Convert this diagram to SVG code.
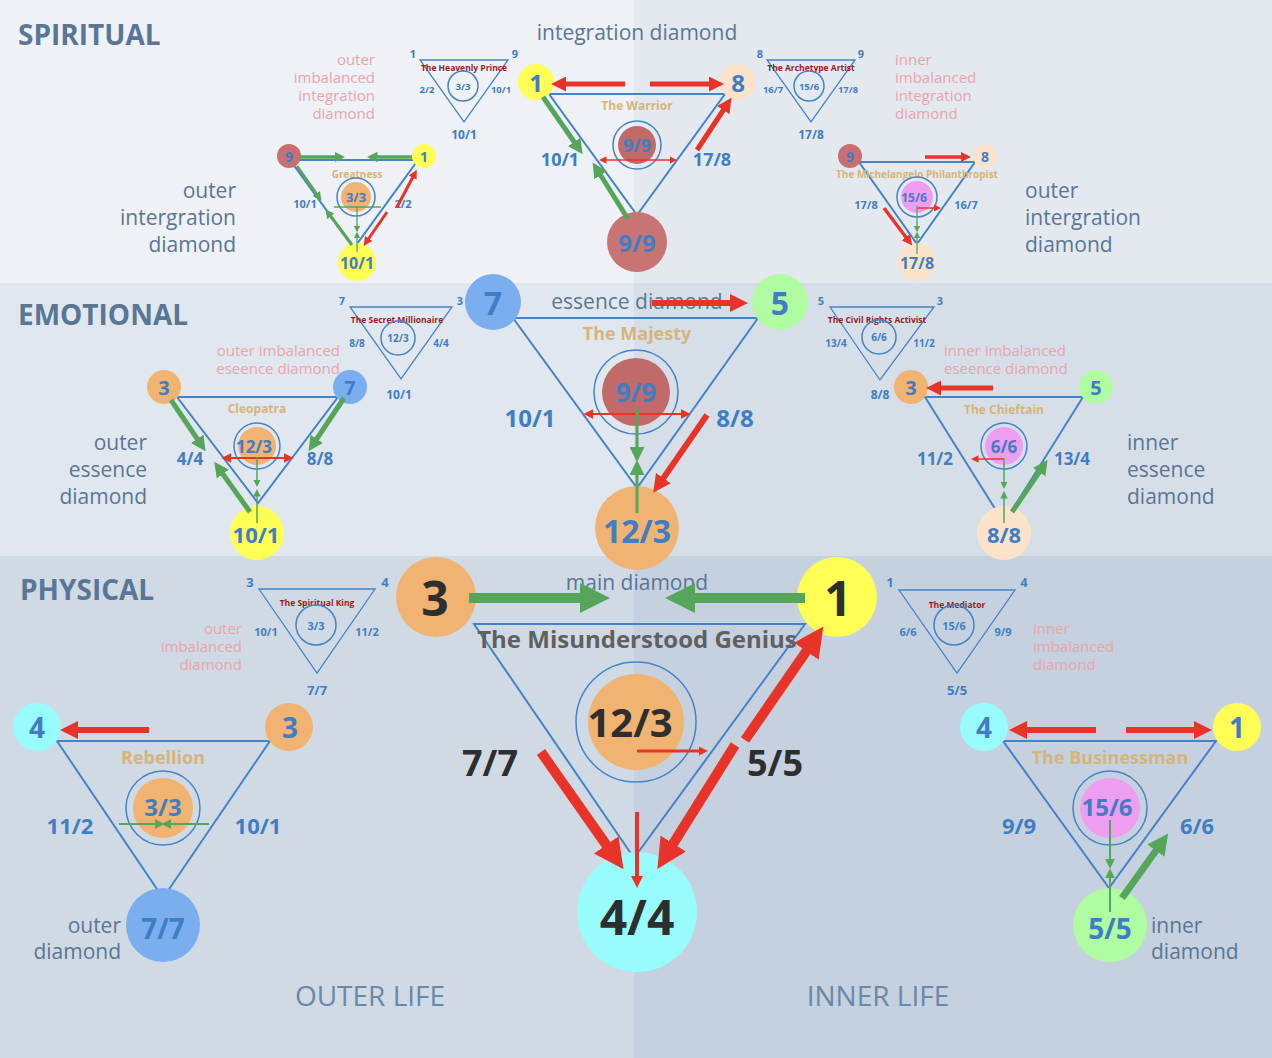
<svg xmlns="http://www.w3.org/2000/svg" width="1272" height="1058" viewBox="0 0 1272 1058">
<style>
text{font-family:"Open Sans","DejaVu Sans",sans-serif}
.b{font-weight:bold;fill:#3f7dc4;text-anchor:middle}
.c{dominant-baseline:central}
.dk{fill:#2e2e2e}
.hd{font-weight:bold;fill:#5a7696;font-size:28px}
.sub{fill:#5a7696;font-size:21px}
.pk{fill:#eaa4ad;font-size:15px}
.nm{font-weight:bold;fill:#d6b47a;text-anchor:middle}
.tt{font-weight:bold;fill:#981c1c;text-anchor:middle;font-size:8.5px}
.tri{fill:none;stroke:#4583c8;stroke-width:2;stroke-linejoin:miter}
.tri2{fill:none;stroke:#4583c8;stroke-width:1.3}
.ring{fill:none;stroke:#4583c8;stroke-width:1.5}
.r{stroke:#e83428;fill:none}
.g{stroke:#55a65a;fill:none}
</style>
<defs>
<marker id="rh" viewBox="0 0 3 3" refX="1" refY="1.5" markerWidth="3" markerHeight="3" orient="auto-start-reverse" markerUnits="strokeWidth"><path d="M0,0 L3,1.5 L0,3 z" fill="#e83428"/></marker>
<marker id="gh" viewBox="0 0 3 3" refX="1" refY="1.5" markerWidth="3" markerHeight="3" orient="auto-start-reverse" markerUnits="strokeWidth"><path d="M0,0 L3,1.5 L0,3 z" fill="#55a65a"/></marker>
<marker id="rs" viewBox="0 0 3 3" refX="1" refY="1.5" markerWidth="5" markerHeight="5" orient="auto-start-reverse" markerUnits="strokeWidth"><path d="M0,0 L3,1.5 L0,3 z" fill="#e83428"/></marker>
<marker id="gs" viewBox="0 0 3 3" refX="1" refY="1.5" markerWidth="5" markerHeight="5" orient="auto-start-reverse" markerUnits="strokeWidth"><path d="M0,0 L3,1.5 L0,3 z" fill="#55a65a"/></marker>
</defs>
<g id="background">
<rect x="0" y="0" width="634" height="283" fill="#eef1f5"/>
<rect x="634" y="0" width="638" height="283" fill="#e3e9ef"/>
<rect x="0" y="283" width="634" height="273" fill="#e1e7ee"/>
<rect x="634" y="283" width="638" height="273" fill="#d6dfe8"/>
<rect x="0" y="556" width="634" height="502" fill="#d0dae4"/>
<rect x="634" y="556" width="638" height="502" fill="#c5d1de"/>
</g>
<g id="labels">
<text class="hd" x="18" y="45">SPIRITUAL</text>
<text class="hd" x="18" y="325">EMOTIONAL</text>
<text class="hd" x="20" y="600">PHYSICAL</text>
<text class="sub" x="637" y="40" text-anchor="middle" font-size="22">integration diamond</text>
<text class="sub" x="637" y="309" text-anchor="middle" font-size="22">essence diamond</text>
<text class="sub" x="637" y="590" text-anchor="middle" font-size="22">main diamond</text>
<text class="sub" text-anchor="end"><tspan x="236" y="198">outer</tspan><tspan x="236" y="225">intergration</tspan><tspan x="236" y="252">diamond</tspan></text>
<text class="sub"><tspan x="1025" y="198">outer</tspan><tspan x="1025" y="225">intergration</tspan><tspan x="1025" y="252">diamond</tspan></text>
<text class="sub" text-anchor="end"><tspan x="147" y="450">outer</tspan><tspan x="147" y="477">essence</tspan><tspan x="147" y="504">diamond</tspan></text>
<text class="sub"><tspan x="1127" y="450">inner</tspan><tspan x="1127" y="477">essence</tspan><tspan x="1127" y="504">diamond</tspan></text>
<text class="sub" text-anchor="end"><tspan x="121" y="933">outer</tspan><tspan x="121" y="959">diamond</tspan></text>
<text class="sub"><tspan x="1151" y="933">inner</tspan><tspan x="1151" y="959">diamond</tspan></text>
<text class="pk" text-anchor="end"><tspan x="375" y="65">outer</tspan><tspan x="375" y="83">imbalanced</tspan><tspan x="375" y="101">integration</tspan><tspan x="375" y="119">diamond</tspan></text>
<text class="pk"><tspan x="895" y="65">inner</tspan><tspan x="895" y="83">imbalanced</tspan><tspan x="895" y="101">integration</tspan><tspan x="895" y="119">diamond</tspan></text>
<text class="pk" text-anchor="end"><tspan x="340" y="356">outer imbalanced</tspan><tspan x="340" y="374">eseence diamond</tspan></text>
<text class="pk"><tspan x="944" y="356">inner imbalanced</tspan><tspan x="944" y="374">eseence diamond</tspan></text>
<text class="pk" text-anchor="end"><tspan x="242" y="634">outer</tspan><tspan x="242" y="652">imbalanced</tspan><tspan x="242" y="670">diamond</tspan></text>
<text class="pk"><tspan x="1033" y="634">inner</tspan><tspan x="1033" y="652">imbalanced</tspan><tspan x="1033" y="670">diamond</tspan></text>
<text x="370" y="1006" font-size="28" fill="#6a88a8" text-anchor="middle">OUTER LIFE</text>
<text x="878" y="1006" font-size="28" fill="#6a88a8" text-anchor="middle">INNER LIFE</text>
</g>

<g id="heavenly-prince">
<polygon class="tri2" points="420,60 508,60 464,122"/>
<text class="b" x="413" y="58" font-size="11">1</text><text class="b" x="515" y="58" font-size="11">9</text>
<text class="tt" x="464" y="71">The Heavenly Prince</text>
<circle class="ring" cx="463" cy="86" r="15"/><text class="b c" x="463" y="86" font-size="9.5">3/3</text>
<text class="b" x="427" y="93" font-size="9.5">2/2</text><text class="b" x="501" y="93" font-size="9.5">10/1</text>
<text class="b" x="464" y="139" font-size="12">10/1</text>
</g>
<g id="archetype-artist">
<polygon class="tri2" points="767,60 855,60 811,122"/>
<text class="b" x="760" y="58" font-size="11">8</text><text class="b" x="861" y="58" font-size="11">9</text>
<text class="tt" x="811" y="71">The Archetype Artist</text>
<circle class="ring" cx="809" cy="86" r="15"/><text class="b c" x="809" y="86" font-size="9.5">15/6</text>
<text class="b" x="773" y="93" font-size="9.5">16/7</text><text class="b" x="848" y="93" font-size="9.5">17/8</text>
<text class="b" x="811" y="139" font-size="12">17/8</text>
</g>
<g id="secret-millionaire">
<polygon class="tri2" points="350,307 452,307 401,379"/>
<text class="b" x="342" y="305" font-size="11">7</text><text class="b" x="460" y="305" font-size="11">3</text>
<text class="tt" x="397" y="323">The Secret Millionaire</text>
<circle class="ring" cx="398" cy="338" r="17"/><text class="b c" x="398" y="338" font-size="10">12/3</text>
<text class="b" x="357" y="347" font-size="10">8/8</text><text class="b" x="441" y="347" font-size="10">4/4</text>
<text class="b" x="399" y="399" font-size="12">10/1</text>
</g>
<g id="civil-rights-activist">
<polygon class="tri2" points="830,307 934,307 880,380"/>
<text class="b" x="821" y="305" font-size="11">5</text><text class="b" x="940" y="305" font-size="11">3</text>
<text class="tt" x="877" y="323">The Civil Rights Activist</text>
<circle class="ring" cx="879" cy="337" r="17"/><text class="b c" x="879" y="337" font-size="10">6/6</text>
<text class="b" x="836" y="347" font-size="10">13/4</text><text class="b" x="924" y="347" font-size="10">11/2</text>
<text class="b" x="880" y="399" font-size="12">8/8</text>
</g>
<g id="spiritual-king">
<polygon class="tri2" points="259,589 375,589 317,673"/>
<text class="b" x="250" y="587" font-size="13">3</text><text class="b" x="385" y="587" font-size="13">4</text>
<text class="tt" x="317" y="606" font-size="9.5">The Spiritual King</text>
<circle class="ring" cx="316" cy="625" r="20"/><text class="b c" x="316" y="625" font-size="11">3/3</text>
<text class="b" x="266" y="636" font-size="11">10/1</text><text class="b" x="367" y="636" font-size="11">11/2</text>
<text class="b" x="317" y="695" font-size="13">7/7</text>
</g>
<g id="mediator">
<polygon class="tri2" points="899,590 1015,590 957,673"/>
<text class="b" x="890" y="587" font-size="13">1</text><text class="b" x="1024" y="587" font-size="13">4</text>
<text class="tt" x="957" y="608" font-size="9.5">The Mediator</text>
<circle class="ring" cx="954" cy="625" r="20"/><text class="b c" x="954" y="625" font-size="11">15/6</text>
<text class="b" x="908" y="636" font-size="11">6/6</text><text class="b" x="1003" y="636" font-size="11">9/9</text>
<text class="b" x="957" y="695" font-size="13">5/5</text>
</g>

<g id="warrior">
<polygon class="tri" points="549,94 725,94 637,215"/>
<text class="nm" x="637" y="110" font-size="12">The Warrior</text>
<circle class="ring" cx="637" cy="145" r="24"/><circle cx="637" cy="145" r="19" fill="#c06a6a"/>
<text class="b c" x="637" y="145" font-size="18">9/9</text>
<text class="b" x="560" y="166" font-size="18">10/1</text><text class="b" x="712" y="166" font-size="18">17/8</text>
<circle cx="536" cy="82" r="18" fill="#ffff55"/><text class="b c" x="536" y="82" font-size="24">1</text>
<circle cx="738" cy="82" r="18" fill="#fae3c8"/><text class="b c" x="738" y="82" font-size="24">8</text>
<circle cx="637" cy="242" r="30" fill="#c87474"/><text class="b c" x="637" y="242" font-size="24">9/9</text>
</g>
<g id="greatness">
<polygon class="tri" points="290,160 418,160 354,248"/>
<text class="nm" x="357" y="178" font-size="10">Greatness</text>
<circle class="ring" cx="356" cy="197" r="19"/><circle cx="356" cy="197" r="15" fill="#f0b372"/>
<text class="b c" x="356" y="197" font-size="13">3/3</text>
<text class="b" x="305" y="208" font-size="11">10/1</text><text class="b" x="403" y="208" font-size="11">2/2</text>
<circle cx="289" cy="156" r="12" fill="#c87070"/><text class="b c" x="289" y="156" font-size="14">9</text>
<circle cx="424" cy="156" r="12" fill="#ffff55"/><text class="b c" x="424" y="156" font-size="14">1</text>
<circle cx="357" cy="262" r="19" fill="#ffff55"/><text class="b c" x="357" y="263" font-size="16">10/1</text>
</g>
<g id="michelangelo">
<polygon class="tri" points="859,162 975,162 917,244"/>
<text class="nm" x="917" y="178" font-size="10">The Michelangelo Philanthropist</text>
<circle class="ring" cx="917" cy="197" r="20"/><circle cx="917" cy="197" r="16" fill="#ee9ef0"/>
<text class="b c" x="914" y="197" font-size="12">15/6</text>
<text class="b" x="866" y="209" font-size="11">17/8</text><text class="b" x="966" y="209" font-size="11">16/7</text>
<circle cx="850" cy="156" r="12" fill="#c87070"/><text class="b c" x="850" y="156" font-size="14">9</text>
<circle cx="985" cy="156" r="12" fill="#fae3c8"/><text class="b c" x="985" y="156" font-size="14">8</text>
<circle cx="917" cy="262" r="19" fill="#fae3c8"/><text class="b c" x="917" y="263" font-size="16">17/8</text>
</g>

<g id="majesty">
<polygon class="tri" points="513,318 758,318 637,488"/>
<text class="nm" x="637" y="340" font-size="18">The Majesty</text>
<circle class="ring" cx="636" cy="392" r="42"/><circle cx="636" cy="392" r="34" fill="#c06a6a"/>
<text class="b c" x="636" y="392" font-size="26">9/9</text>
<text class="b" x="530" y="427" font-size="24">10/1</text><text class="b" x="735" y="427" font-size="24">8/8</text>
<circle cx="493" cy="302" r="28" fill="#7aaeee"/><text class="b c" x="493" y="302" font-size="32">7</text>
<circle cx="780" cy="302" r="28" fill="#b0fca0"/><text class="b c" x="780" y="302" font-size="32">5</text>
<circle cx="637" cy="528" r="42" fill="#f0b372"/><text class="b c" x="637" y="530" font-size="32">12/3</text>
</g>
<g id="cleopatra">
<polygon class="tri" points="177,397 338,397 258,503"/>
<text class="nm" x="257" y="413" font-size="12">Cleopatra</text>
<circle class="ring" cx="257" cy="446" r="23"/><circle cx="257" cy="446" r="19" fill="#f0b372"/>
<text class="b c" x="254" y="446" font-size="17">12/3</text>
<text class="b" x="190" y="465" font-size="17">4/4</text><text class="b" x="320" y="465" font-size="17">8/8</text>
<circle cx="164" cy="387" r="17" fill="#f0b372"/><text class="b c" x="164" y="387" font-size="20">3</text>
<circle cx="350" cy="387" r="17" fill="#7aaeee"/><text class="b c" x="350" y="387" font-size="20">7</text>
<circle cx="257" cy="533" r="27" fill="#ffff55"/><text class="b c" x="256" y="534" font-size="22">10/1</text>
</g>
<g id="chieftain">
<polygon class="tri" points="925,397 1083,397 1004,523"/>
<text class="nm" x="1004" y="414" font-size="12">The Chieftain</text>
<circle class="ring" cx="1004" cy="446" r="23"/><circle cx="1004" cy="446" r="19" fill="#ee9ef0"/>
<text class="b c" x="1004" y="446" font-size="17">6/6</text>
<text class="b" x="935" y="465" font-size="17">11/2</text><text class="b" x="1072" y="465" font-size="17">13/4</text>
<circle cx="911" cy="387" r="17" fill="#f0b372"/><text class="b c" x="911" y="387" font-size="20">3</text>
<circle cx="1096" cy="387" r="17" fill="#b0fca0"/><text class="b c" x="1096" y="387" font-size="20">5</text>
<circle cx="1004" cy="533" r="27" fill="#fae3c8"/><text class="b c" x="1004" y="534" font-size="22">8/8</text>
</g>

<g id="misunderstood-genius">
<polygon class="tri" points="474,624 805,624 634,858"/>
<text x="637" y="648" font-size="24" font-weight="bold" fill="#606060" text-anchor="middle">The Misunderstood Genius</text>
<circle class="ring" cx="636" cy="722" r="60" stroke-width="2"/><circle cx="636" cy="722" r="48" fill="#f0b372"/>
<text class="b c dk" x="630" y="721" font-size="40">12/3</text>
<text class="b dk" x="490" y="776" font-size="36">7/7</text><text class="b dk" x="775" y="776" font-size="36">5/5</text>
<circle cx="436" cy="597" r="40" fill="#f0b372"/><text class="b c dk" x="435" y="597" font-size="48">3</text>
<circle cx="837" cy="597" r="40" fill="#ffff55"/><text class="b c dk" x="838" y="597" font-size="48">1</text>
<circle cx="637" cy="912" r="60" fill="#98fcfc"/><text class="b c dk" x="637" y="916" font-size="48">4/4</text>
</g>
<g id="rebellion">
<polygon class="tri" points="57,741 270,741 163,898"/>
<text class="nm" x="163" y="764" font-size="18">Rebellion</text>
<circle class="ring" cx="163" cy="808" r="37"/><circle cx="163" cy="808" r="30" fill="#f0b372"/>
<text class="b c" x="163" y="806" font-size="24">3/3</text>
<text class="b" x="70" y="834" font-size="22">11/2</text><text class="b" x="258" y="834" font-size="22">10/1</text>
<circle cx="37" cy="727" r="24" fill="#98fcfc"/><text class="b c" x="37" y="727" font-size="28">4</text>
<circle cx="289" cy="727" r="24" fill="#f0b372"/><text class="b c" x="290" y="727" font-size="28">3</text>
<circle cx="163" cy="925" r="37" fill="#7aaeee"/><text class="b c" x="163" y="928" font-size="28">7/7</text>
</g>
<g id="businessman">
<polygon class="tri" points="1003,741 1216,741 1109,888"/>
<text class="nm" x="1110" y="764" font-size="18">The Businessman</text>
<circle class="ring" cx="1110" cy="808" r="37"/><circle cx="1110" cy="808" r="30" fill="#ee9ef0"/>
<text class="b c" x="1107" y="806" font-size="24">15/6</text>
<text class="b" x="1019" y="834" font-size="22">9/9</text><text class="b" x="1197" y="834" font-size="22">6/6</text>
<circle cx="984" cy="727" r="24" fill="#98fcfc"/><text class="b c" x="984" y="727" font-size="28">4</text>
<circle cx="1237" cy="727" r="24" fill="#ffff55"/><text class="b c" x="1237" y="727" font-size="28">1</text>
<circle cx="1110" cy="925" r="37" fill="#b0fca0"/><text class="b c" x="1110" y="928" font-size="28">5/5</text>
</g>

<g id="connectors">
<line class="r" stroke-width="5" x1="625" y1="84" x2="561" y2="84" marker-end="url(#rh)"/>
<line class="r" stroke-width="5" x1="650" y1="84" x2="714" y2="84" marker-end="url(#rh)"/>
<line class="r" stroke-width="5" x1="697" y1="150" x2="726" y2="106" marker-end="url(#rh)"/>
<line class="g" stroke-width="5" x1="543" y1="97" x2="577" y2="146" marker-end="url(#gh)"/>
<line class="g" stroke-width="5" x1="628" y1="219" x2="598" y2="171" marker-end="url(#gh)"/>
<line class="r" stroke-width="1.5" x1="604" y1="160" x2="672" y2="160" marker-start="url(#rs)" marker-end="url(#rs)"/>
<line class="g" stroke-width="3.5" x1="300" y1="157" x2="338" y2="157" marker-end="url(#gh)"/>
<line class="g" stroke-width="3.5" x1="412" y1="157" x2="374" y2="157" marker-end="url(#gh)"/>
<line class="g" stroke-width="3" x1="297" y1="166" x2="318" y2="196" marker-end="url(#gh)"/>
<line class="g" stroke-width="3" x1="352" y1="245" x2="329" y2="214" marker-end="url(#gh)"/>
<line class="r" stroke-width="3" x1="397" y1="207" x2="414" y2="175" marker-end="url(#rh)"/>
<line class="r" stroke-width="3" x1="387" y1="212" x2="367" y2="241" marker-end="url(#rh)"/>
<line class="g" stroke-width="1.3" x1="334" y1="207" x2="381" y2="207"/>
<line class="g" stroke-width="1.3" x1="357" y1="206" x2="357" y2="228" marker-end="url(#gs)"/>
<line class="g" stroke-width="1.3" x1="357" y1="252" x2="357" y2="236" marker-end="url(#gs)"/>
<line class="r" stroke-width="3.5" x1="925" y1="157" x2="964" y2="157" marker-end="url(#rh)"/>
<line class="r" stroke-width="3.5" x1="884" y1="208" x2="908" y2="240" marker-end="url(#rh)"/>
<line class="r" stroke-width="1.5" x1="917" y1="208" x2="936" y2="208" marker-end="url(#rs)"/>
<line class="g" stroke-width="1.3" x1="917" y1="206" x2="917" y2="228" marker-end="url(#gs)"/>
<line class="g" stroke-width="1.3" x1="917" y1="254" x2="917" y2="236" marker-end="url(#gs)"/>
<line class="r" stroke-width="6" x1="652" y1="303" x2="736" y2="303" marker-end="url(#rh)"/>
<line class="r" stroke-width="6" x1="707" y1="415" x2="660" y2="483" marker-end="url(#rh)"/>
<line class="r" stroke-width="2" x1="590" y1="414" x2="684" y2="414" marker-start="url(#rs)" marker-end="url(#rs)"/>
<line class="g" stroke-width="3" x1="637" y1="408" x2="637" y2="452" marker-end="url(#gs)"/>
<line class="g" stroke-width="3" x1="637" y1="513" x2="637" y2="470" marker-end="url(#gs)"/>
<line class="g" stroke-width="5" x1="171" y1="400" x2="200" y2="443" marker-end="url(#gh)"/>
<line class="g" stroke-width="5" x1="250" y1="512" x2="220" y2="470" marker-end="url(#gh)"/>
<line class="g" stroke-width="5" x1="344" y1="398" x2="314" y2="443" marker-end="url(#gh)"/>
<line class="r" stroke-width="2" x1="228" y1="458" x2="287" y2="458" marker-start="url(#rs)" marker-end="url(#rs)"/>
<line class="g" stroke-width="1.5" x1="257" y1="457" x2="257" y2="482" marker-end="url(#gs)"/>
<line class="g" stroke-width="1.5" x1="257" y1="523" x2="257" y2="494" marker-end="url(#gs)"/>
<line class="r" stroke-width="5" x1="993" y1="388" x2="936" y2="388" marker-end="url(#rh)"/>
<line class="g" stroke-width="5" x1="1012" y1="512" x2="1042" y2="468" marker-end="url(#gh)"/>
<line class="r" stroke-width="1.5" x1="1004" y1="459" x2="976" y2="459" marker-end="url(#rs)"/>
<line class="g" stroke-width="1.5" x1="1004" y1="458" x2="1004" y2="484" marker-end="url(#gs)"/>
<line class="g" stroke-width="1.5" x1="1004" y1="523" x2="1004" y2="496" marker-end="url(#gs)"/>
<line class="g" stroke-width="10" x1="469" y1="598" x2="590" y2="598" marker-end="url(#gh)"/>
<line class="g" stroke-width="10" x1="805" y1="598" x2="685" y2="598" marker-end="url(#gh)"/>
<line class="r" stroke-width="10" x1="541" y1="752" x2="612" y2="853" marker-end="url(#rh)"/>
<line class="r" stroke-width="10" x1="735" y1="745" x2="668" y2="852" marker-end="url(#rh)"/>
<line class="r" stroke-width="10" x1="745" y1="740" x2="812" y2="643" marker-end="url(#rh)"/>
<line class="r" stroke-width="4" x1="637" y1="812" x2="637" y2="880" marker-end="url(#rh)"/>
<line class="r" stroke-width="3" x1="637" y1="751" x2="702" y2="751" marker-end="url(#rh)"/>
<line class="r" stroke-width="6" x1="149" y1="730" x2="72" y2="730" marker-end="url(#rh)"/>
<line class="g" stroke-width="2" x1="119" y1="824" x2="158" y2="824" marker-end="url(#gs)"/>
<line class="g" stroke-width="2" x1="209" y1="824" x2="168" y2="824" marker-end="url(#gs)"/>
<line class="r" stroke-width="6" x1="1096" y1="730" x2="1021" y2="730" marker-end="url(#rh)"/>
<line class="r" stroke-width="6" x1="1126" y1="730" x2="1200" y2="730" marker-end="url(#rh)"/>
<line class="g" stroke-width="7" x1="1122" y1="898" x2="1160" y2="845" marker-end="url(#gh)"/>
<line class="g" stroke-width="2" x1="1110" y1="820" x2="1110" y2="862" marker-end="url(#gs)"/>
<line class="g" stroke-width="2" x1="1110" y1="912" x2="1110" y2="875" marker-end="url(#gs)"/>
</g>
</svg>
